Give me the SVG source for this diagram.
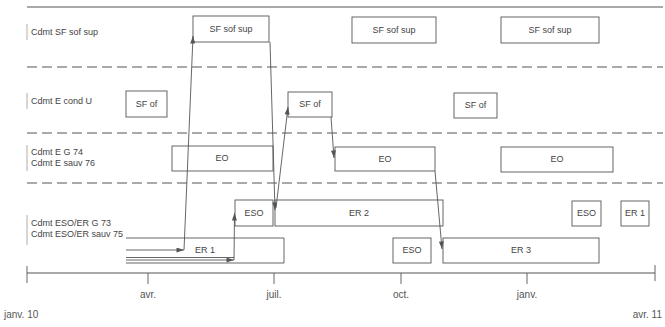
<svg xmlns="http://www.w3.org/2000/svg" width="665" height="327" viewBox="0 0 665 327">
<defs>
<style>
.bg{fill:#fff}
.box{fill:#fff;stroke:#555;stroke-width:0.9}
.sep{stroke:#555;stroke-width:1;stroke-dasharray:10 5;fill:none}
.solid{stroke:#555;stroke-width:1.2;fill:none}
.bar{stroke:#999;stroke-width:0.8}
.con{stroke:#555;stroke-width:0.9;fill:none}
.lbl{font-family:"Liberation Sans",Arial,sans-serif;font-size:9px;fill:#444}
.bt{font-family:"Liberation Sans",Arial,sans-serif;font-size:9px;fill:#444;text-anchor:middle}
.tk{font-family:"Liberation Sans",Arial,sans-serif;font-size:10px;fill:#555}
</style>
<marker id="ah" viewBox="0 0 9 6" refX="9" refY="3" markerWidth="9" markerHeight="5" markerUnits="userSpaceOnUse" orient="auto">
<path d="M0,0 L9,3 L0,6 Z" fill="#555"/>
</marker>
</defs>
<rect class="bg" x="0" y="0" width="665" height="327"/>

<g id="grid">
<line class="solid" x1="27" y1="7" x2="663" y2="7"/>
<line class="sep" x1="27" y1="67" x2="663" y2="67"/>
<line class="sep" x1="27" y1="133" x2="663" y2="133"/>
<line class="sep" x1="27" y1="183" x2="663" y2="183"/>
</g>

<g id="row-labels">
<line class="bar" x1="27" y1="24" x2="27" y2="40"/>
<text class="lbl" x="31" y="35">Cdmt SF sof sup</text>
<line class="bar" x1="27" y1="93" x2="27" y2="109"/>
<text class="lbl" x="31" y="104">Cdmt E cond U</text>
<line class="bar" x1="27" y1="145" x2="27" y2="171"/>
<text class="lbl" x="31" y="155">Cdmt E G 74</text>
<text class="lbl" x="31" y="166">Cdmt E sauv 76</text>
<line class="bar" x1="27" y1="215" x2="27" y2="245"/>
<text class="lbl" x="31" y="226">Cdmt ESO/ER G 73</text>
<text class="lbl" x="31" y="237">Cdmt ESO/ER sauv 75</text>
</g>

<g id="sfsup1"><rect class="box" x="193" y="16" width="76" height="26"/><text class="bt" x="231" y="32">SF sof sup</text></g>
<g id="sfsup2"><rect class="box" x="352" y="17" width="84" height="26"/><text class="bt" x="394" y="33">SF sof sup</text></g>
<g id="sfsup3"><rect class="box" x="501" y="17" width="98" height="26"/><text class="bt" x="550" y="33">SF sof sup</text></g>

<g id="sfof1"><rect class="box" x="126" y="91" width="41" height="26"/><text class="bt" x="146.5" y="107">SF of</text></g>
<g id="sfof2"><rect class="box" x="288" y="92" width="44" height="25"/><text class="bt" x="310" y="107">SF of</text></g>
<g id="sfof3"><rect class="box" x="454" y="93" width="43" height="25"/><text class="bt" x="475.5" y="108">SF of</text></g>

<g id="eo1"><rect class="box" x="172" y="146" width="101" height="25"/><text class="bt" x="222" y="161">EO</text></g>
<g id="eo2"><rect class="box" x="335" y="147" width="100" height="24"/><text class="bt" x="385" y="162">EO</text></g>
<g id="eo3"><rect class="box" x="501" y="147" width="112" height="25"/><text class="bt" x="557" y="162">EO</text></g>

<g id="eso1"><rect class="box" x="235" y="200" width="38" height="26"/><text class="bt" x="254" y="216">ESO</text></g>
<g id="er2"><rect class="box" x="275" y="200" width="168" height="26"/><text class="bt" x="359" y="216">ER 2</text></g>
<g id="eso3"><rect class="box" x="572" y="201" width="29" height="25"/><text class="bt" x="586.5" y="216">ESO</text></g>
<g id="er1b"><rect class="box" x="621" y="201" width="28" height="25"/><text class="bt" x="635" y="216">ER 1</text></g>

<g id="er1"><path class="box" d="M126,238 H284 V263 H126"/><text class="bt" x="205" y="253">ER 1</text></g>
<g id="eso2"><rect class="box" x="393" y="238" width="38" height="25"/><text class="bt" x="412" y="253">ESO</text></g>
<g id="er3"><rect class="box" x="443" y="238" width="156" height="25"/><text class="bt" x="521" y="253">ER 3</text></g>

<g id="connectors">
<line class="con" x1="126" y1="250" x2="184" y2="250" marker-end="url(#ah)"/>
<line class="con" x1="184" y1="250" x2="193" y2="36" marker-end="url(#ah)"/>
<line class="con" x1="126" y1="257.5" x2="234" y2="257.5"/>
<line class="con" x1="126" y1="260" x2="234" y2="260" marker-end="url(#ah)"/>
<line class="con" x1="234" y1="260" x2="234.5" y2="213" marker-end="url(#ah)"/>
<line class="con" x1="270" y1="42" x2="275" y2="210" marker-end="url(#ah)"/>
<line class="con" x1="276" y1="208" x2="288" y2="107" marker-end="url(#ah)"/>
<line class="con" x1="331" y1="117" x2="334" y2="158" marker-end="url(#ah)"/>
<line class="con" x1="435" y1="171" x2="442" y2="249" marker-end="url(#ah)"/>
</g>

<g id="timeline">
<line class="solid" x1="27" y1="273" x2="655" y2="273" stroke-width="1.4"/>
<line class="con" x1="27" y1="266" x2="27" y2="283"/>
<line class="con" x1="655" y1="265" x2="655" y2="281"/>
<line class="con" x1="148" y1="273" x2="148" y2="284"/>
<line class="con" x1="274" y1="273" x2="274" y2="284"/>
<line class="con" x1="401" y1="273" x2="401" y2="284"/>
<line class="con" x1="527" y1="273" x2="527" y2="284"/>
<text class="tk" x="148" y="298" text-anchor="middle">avr.</text>
<text class="tk" x="274" y="298" text-anchor="middle">juil.</text>
<text class="tk" x="401" y="298" text-anchor="middle">oct.</text>
<text class="tk" x="527" y="298" text-anchor="middle">janv.</text>
<text class="tk" x="4" y="318">janv. 10</text>
<text class="tk" x="662" y="318" text-anchor="end">avr. 11</text>
</g>
</svg>
